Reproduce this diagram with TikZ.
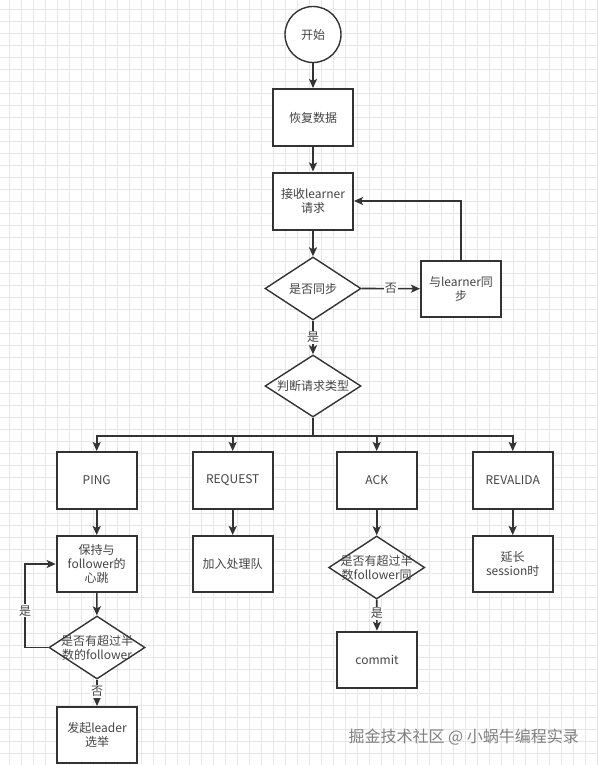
\documentclass[tikz,border=0pt]{standalone}
\usepackage{fontspec}
\setmainfont{Noto Sans CJK SC}
\usetikzlibrary{shapes.geometric,arrows.meta}
\definecolor{ln}{HTML}{333333}
\definecolor{txt}{HTML}{444444}
\definecolor{gridc}{HTML}{E6E6E6}
\definecolor{wm}{HTML}{808080}
\begin{document}
\begin{tikzpicture}[x=1pt,y=-1pt,
  every node/.style={font=\fontsize{12}{14}\selectfont, text=txt},
  box/.style={draw=ln, line width=2pt, minimum width=80pt, minimum height=57pt, inner sep=0pt, align=center, fill=white},
  dia/.style={draw=ln, line width=1.4pt, diamond, minimum width=96pt, minimum height=63pt, inner sep=0pt, fill=white},
  conn/.style={draw=ln, line width=1.6pt, -{Stealth[length=9pt,width=8pt,inset=2pt]}},
  plain/.style={draw=ln, line width=1.6pt},
  lab/.style={fill=white, inner sep=1pt}]
\useasboundingbox (0,0) rectangle (597,765);
\fill[white] (0,0) rectangle (597,765);
% grid
\foreach \i in {0,...,49} {
  \draw[gridc, line width=0.5pt] (9+12*\i,0) -- (9+12*\i,765);
}
\foreach \j in {0,...,63} {
  \draw[gridc, line width=0.5pt] (0,9+12*\j) -- (597,9+12*\j);
}
% nodes
\node[circle, draw=ln, line width=1.4pt, minimum size=56pt, inner sep=0pt, fill=white] (start) at (313,34.5) {开始};
\node[box] (recover) at (313,117.5) {恢复数据};
\node[box] (recv) at (313,201) {接收learner\\请求};
\node[dia] (sync) at (313,288.5) {};
\node (synct) at (313,288.5) {是否同步};
\node[box, minimum height=56pt] (syncbox) at (461,288.7) {与learner同\\步};
\node[dia, minimum height=62pt] (judge) at (313,386) {};
\node (judget) at (313,386) {判断请求类型};
\coordinate (bus) at (313,436);

\node[box] (ping) at (96.7,480.5) {PING};
\node[box] (request) at (232.7,480.5) {REQUEST};
\node[box] (ack) at (376.7,480.5) {ACK};
\node[box] (reval) at (512.7,480.5) {REVALIDA};

\node[box, minimum height=56pt] (keep) at (96.7,564) {保持与\\follower的\\心跳};
\node[box, minimum height=56pt] (queue) at (232.7,564) {加入处理队};
\node[box, minimum height=56pt] (extend) at (512.7,564) {延长\\session时};
\node[dia] (half2) at (376.7,567.5) {};
\node[align=center] (half2t) at (376.7,567.5) {是否有超过半\\数follower同};
\node[box, minimum height=56pt] (commit) at (377,659.7) {commit};
\node[dia] (half1) at (97,647.5) {};
\node[align=center] (half1t) at (97,647.5) {是否有超过半\\数的follower};
\node[box, minimum height=56pt] (elect) at (97,735) {发起leader\\选举};
\coordinate (loopc) at (25,647.5);

% connectors
\draw[conn] (start) -- (recover);
\draw[conn] (recover) -- (recv);
\draw[conn] (recv) -- (sync);
\draw[conn] (sync.east) -- node[lab, pos=0.5] (no1) {否} (syncbox.west);
\draw[conn] (syncbox.north) |- (recv.east);
\draw[conn] (sync.south) -- node[lab] (yes1) {是} (judge.north);
\draw[plain] (judge.south) -- (bus);
\draw[conn] (bus) -| (ping.north);
\draw[conn] (bus) -| (request.north);
\draw[conn] (bus) -| (ack.north);
\draw[conn] (bus) -| (reval.north);
\draw[conn] (ping) -- (keep);
\draw[conn] (request) -- (queue);
\draw[conn] (reval) -- (extend);
\draw[conn] (ack) -- (half2);
\draw[conn] (half2.south) -- node[lab, pos=0.45] (yes3) {是} (commit.north);
\draw[conn] (keep) -- (half1);
\draw[conn] (half1.west) -- (loopc) |- node[lab, pos=0.22] (yes2) {是} (keep.west);
\draw[conn] (half1.south) -- node[lab, pos=0.45] (no2) {否} (elect.north);

% watermark
\node[text=wm, font=\fontsize{16}{18}\selectfont, anchor=west] (mark) at (345,737) {掘金技术社区 @ 小蜗牛编程实录};
\end{tikzpicture}
\end{document}
